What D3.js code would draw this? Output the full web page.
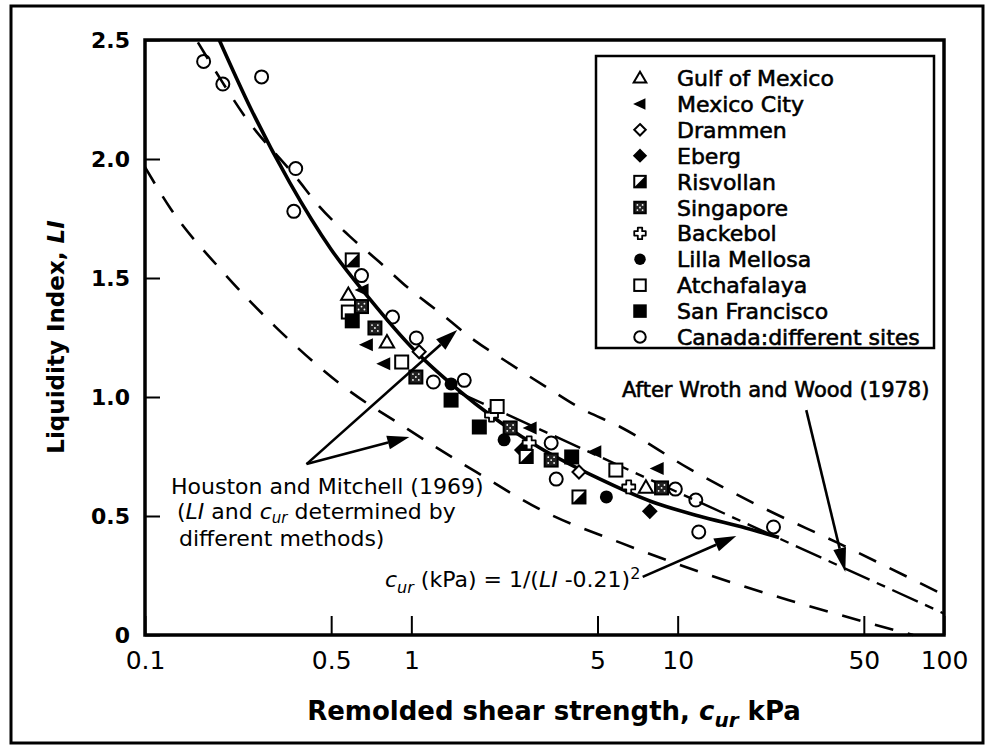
<!DOCTYPE html>
<html>
<head>
<meta charset="utf-8">
<script src="https://cdn.jsdelivr.net/npm/d3@7"></script>
<style>
  body { margin: 0; background: #fff; }
  svg { display: block; }
  text { font-family: "DejaVu Sans", sans-serif; fill: #000; }
  .heavy { stroke: #000; stroke-width: 0.6px; }
</style>
</head>
<body>
<svg id="chart" width="993" height="747"></svg>
<script>
const width = 993;
const height = 747;

// points: [c_ur kPa, LI]
const gulfOfMexico = [[0.58, 1.43], [0.81, 1.23], [7.6, 0.62]];
const mexicoCity = [[0.655, 1.45], [0.68, 1.22], [0.79, 1.14], [2.8, 0.87], [4.9, 0.77], [8.4, 0.70]];
const drammen = [[1.07, 1.19], [4.26, 0.685]];
const eberg = [[2.6, 0.777], [7.86, 0.52]];
const risvollan = [[0.60, 1.576], [2.70, 0.75], [4.26, 0.58]];
const singapore = [[0.65, 1.38], [0.73, 1.29], [1.04, 1.084], [2.35, 0.87], [3.35, 0.735], [8.7, 0.618]];
const backebol = [[2.0, 0.924], [2.77, 0.807], [6.55, 0.622]];
const lillaMellosa = [[1.41, 1.055], [2.23, 0.82], [5.4, 0.58]];
const atchafalaya = [[0.58, 1.357], [0.92, 1.147], [2.1, 0.96], [5.86, 0.693]];
const sanFrancisco = [[0.60, 1.32], [1.41, 0.987], [1.80, 0.874], [4.0, 0.748]];
const canada = [[0.166, 2.41], [0.196, 2.315], [0.274, 2.345], [0.368, 1.96], [0.362, 1.78],
  [0.65, 1.51], [0.85, 1.336], [1.044, 1.248], [1.21, 1.063], [1.58, 1.07], [3.35, 0.807],
  [3.5, 0.655], [9.8, 0.613], [11.7, 0.567], [12.0, 0.433], [22.9, 0.454]];

// curves
const fitCurve = [[0.19, 2.5], [0.25, 2.21], [0.35, 1.90], [0.5, 1.62], [0.7, 1.41], [1, 1.21],
  [1.5, 1.03], [2, 0.92], [3, 0.79], [5, 0.66], [8, 0.56], [12, 0.50], [18, 0.45], [24, 0.41]];
const hmUpper = [[0.158, 2.49], [0.196, 2.32], [0.235, 2.185], [0.371, 1.92], [0.452, 1.80],
  [0.586, 1.676], [0.759, 1.567], [0.983, 1.454], [1.27, 1.357], [1.72, 1.239], [2.29, 1.147],
  [3.23, 1.04], [4.30, 0.954], [6.07, 0.875], [11.0, 0.70], [20.6, 0.538], [39.4, 0.39], [100, 0.168]];
const hmLower = [[0.1, 1.966], [0.125, 1.79], [0.193, 1.534], [0.307, 1.298], [0.547, 1.05],
  [0.966, 0.866], [1.75, 0.685], [3.23, 0.513], [6.12, 0.387], [12.8, 0.256], [26.0, 0.147],
  [52.4, 0.05], [76.6, 0]];
const wrothWood = [[1.5, 1.02], [100, 0.09]];

const xTicks = [0.1, 0.5, 1, 5, 10, 50, 100];
const yTicks = [0, 0.5, 1, 1.5, 2, 2.5];

const series = [
  { name: "Gulf of Mexico", kind: "triUp", data: gulfOfMexico },
  { name: "Mexico City", kind: "triLeft", data: mexicoCity },
  { name: "Drammen", kind: "diamondOpen", data: drammen },
  { name: "Eberg", kind: "diamondFill", data: eberg },
  { name: "Risvollan", kind: "halfSquare", data: risvollan },
  { name: "Singapore", kind: "dotSquare", data: singapore },
  { name: "Backebol", kind: "cross", data: backebol },
  { name: "Lilla Mellosa", kind: "dot", data: lillaMellosa },
  { name: "Atchafalaya", kind: "squareOpen", data: atchafalaya },
  { name: "San Francisco", kind: "squareFill", data: sanFrancisco },
  { name: "Canada:different sites", kind: "circleOpen", data: canada }
];

const svg = d3.select("#chart");

svg.append("rect")
  .attr("x", 11).attr("y", 6)
  .attr("width", 972).attr("height", 737)
  .attr("fill", "#fff").attr("stroke", "#000").attr("stroke-width", 3);

const x = d3.scaleLog().domain([0.1, 100]).range([145, 944]);
const y = d3.scaleLinear().domain([0, 2.5]).range([635, 40]);

// axes
const xAxis = svg.append("g")
  .attr("transform", `translate(0,${y(0)})`)
  .call(d3.axisBottom(x).tickValues(xTicks).tickSize(-19).tickPadding(16)
    .tickFormat(d => String(d)));
xAxis.select(".domain").remove();
xAxis.selectAll("line").attr("stroke", "#000").attr("stroke-width", 2);
xAxis.selectAll("text")
  .attr("font-family", "Liberation Sans, Arial, sans-serif")
  .attr("font-size", 25);

const yAxis = svg.append("g")
  .attr("transform", `translate(${x(0.1)},0)`)
  .call(d3.axisLeft(y).tickValues(yTicks).tickSize(-15).tickPadding(15)
    .tickFormat(d => d === 0 ? "0" : d3.format(".1f")(d)));
yAxis.select(".domain").remove();
yAxis.selectAll("line").attr("stroke", "#000").attr("stroke-width", 2);
yAxis.selectAll("text")
  .attr("font-weight", "bold")
  .attr("font-size", 22);

svg.append("rect")
  .attr("x", x(0.1)).attr("y", y(2.5))
  .attr("width", x(100) - x(0.1)).attr("height", y(0) - y(2.5))
  .attr("fill", "none").attr("stroke", "#000").attr("stroke-width", 3.5);

// lines
const line = d3.line()
  .x(d => x(d[0]))
  .y(d => y(d[1]))
  .curve(d3.curveMonotoneX);

const plot = svg.append("g");

plot.append("path").datum(hmUpper)
  .attr("d", line).attr("fill", "none").attr("stroke", "#000")
  .attr("stroke-width", 2.6).attr("stroke-dasharray", "19,15");
plot.append("path").datum(hmLower)
  .attr("d", line).attr("fill", "none").attr("stroke", "#000")
  .attr("stroke-width", 2.6).attr("stroke-dasharray", "19,15");
plot.append("path").datum(wrothWood)
  .attr("d", line).attr("fill", "none").attr("stroke", "#000")
  .attr("stroke-width", 2.4).attr("stroke-dasharray", "28,8,9,8");
plot.append("path").datum(fitCurve)
  .attr("d", line).attr("fill", "none").attr("stroke", "#000")
  .attr("stroke-width", 3.6);

// markers
function drawMarker(g, kind, s) {
  const h = s / 2;
  const sw = 2;
  if (kind === "triUp") {
    g.append("path").attr("d", `M0,${-h * 1.1}L${h * 1.1},${h * 0.8}L${-h * 1.1},${h * 0.8}Z`)
      .attr("fill", "#fff").attr("stroke", "#000").attr("stroke-width", sw);
  } else if (kind === "triLeft") {
    g.append("path").attr("d", `M${-h * 1.2},0L${h * 0.95},${-h * 1.0}L${h * 0.95},${h * 1.0}Z`)
      .attr("fill", "#000");
  } else if (kind === "diamondOpen" || kind === "diamondFill") {
    g.append("path").attr("d", `M0,${-h}L${h},0L0,${h}L${-h},0Z`)
      .attr("fill", kind === "diamondFill" ? "#000" : "#fff")
      .attr("stroke", "#000").attr("stroke-width", sw);
  } else if (kind === "halfSquare") {
    g.append("rect").attr("x", -h).attr("y", -h).attr("width", s).attr("height", s)
      .attr("fill", "#fff").attr("stroke", "#000").attr("stroke-width", sw);
    g.append("path").attr("d", `M${h},${-h}L${h},${h}L${-h},${h}Z`).attr("fill", "#000");
  } else if (kind === "dotSquare") {
    g.append("rect").attr("x", -h).attr("y", -h).attr("width", s).attr("height", s)
      .attr("fill", "#222").attr("stroke", "#000").attr("stroke-width", sw);
    [[-1, -1], [1, -1], [-1, 1], [1, 1], [0, 0]].forEach(p => {
      g.append("circle").attr("cx", p[0] * h * 0.45).attr("cy", p[1] * h * 0.45)
        .attr("r", 0.9).attr("fill", "#fff");
    });
  } else if (kind === "cross") {
    const a = h * 0.38;
    g.append("path")
      .attr("d", `M${-a},${-h}H${a}V${-a}H${h}V${a}H${a}V${h}H${-a}V${a}H${-h}V${-a}H${-a}Z`)
      .attr("fill", "#fff").attr("stroke", "#000").attr("stroke-width", 1.8)
      .attr("stroke-linejoin", "round");
  } else if (kind === "dot") {
    g.append("circle").attr("r", h).attr("fill", "#000");
  } else if (kind === "squareOpen" || kind === "squareFill") {
    g.append("rect").attr("x", -h).attr("y", -h).attr("width", s).attr("height", s)
      .attr("fill", kind === "squareFill" ? "#000" : "#fff")
      .attr("stroke", "#000").attr("stroke-width", sw);
  } else if (kind === "circleOpen") {
    g.append("circle").attr("r", h).attr("fill", "none")
      .attr("stroke", "#000").attr("stroke-width", sw);
  }
}

series.forEach(sr => {
  plot.append("g")
    .selectAll("g")
    .data(sr.data)
    .enter()
    .append("g")
    .attr("transform", d => `translate(${x(d[0])},${y(d[1])})`)
    .each(function () { drawMarker(d3.select(this), sr.kind, 13); });
});

// legend
const legend = svg.append("g");
legend.append("rect")
  .attr("x", 596).attr("y", 56).attr("width", 338).attr("height", 292)
  .attr("fill", "#fff").attr("stroke", "#000").attr("stroke-width", 2.5);

const rows = legend.selectAll(".row")
  .data(series)
  .enter()
  .append("g")
  .attr("class", "row")
  .attr("transform", (d, i) => `translate(640,${78 + i * 25.9})`);

rows.each(function (d) { drawMarker(d3.select(this), d.kind, 11.5); });
rows.append("text")
  .attr("class", "heavy")
  .attr("x", 37).attr("y", 8)
  .attr("font-size", 22)
  .text(d => d.name);

// annotations
function arrow(from, to, len, half) {
  const x1 = x(from[0]), y1 = y(from[1]), x2 = x(to[0]), y2 = y(to[1]);
  const ang = Math.atan2(y2 - y1, x2 - x1);
  const bx = x2 - len * Math.cos(ang), by = y2 - len * Math.sin(ang);
  svg.append("line")
    .attr("x1", x1).attr("y1", y1).attr("x2", bx).attr("y2", by)
    .attr("stroke", "#000").attr("stroke-width", 2.6);
  const px = -Math.sin(ang) * half, py = Math.cos(ang) * half;
  svg.append("path")
    .attr("d", `M${x2},${y2}L${bx + px},${by + py}L${bx - px},${by - py}Z`)
    .attr("fill", "#000");
}

arrow([0.404, 0.718], [1.487, 1.282], 22, 7);
arrow([0.404, 0.718], [0.983, 0.832], 22, 7);
arrow([30.4, 0.945], [42.6, 0.265], 24, 6.5);
arrow([7.39, 0.244], [16.6, 0.416], 22, 7);

svg.append("text").attr("class", "heavy")
  .attr("x", 622).attr("y", 397).attr("font-size", 21)
  .text("After Wroth and Wood (1978)");

svg.append("text").attr("font-size", 22)
  .attr("x", 171).attr("y", 494).text("Houston and Mitchell (1969)");
const hm = svg.append("text").attr("font-size", 22).attr("x", 177).attr("y", 519);
hm.append("tspan").text("(");
hm.append("tspan").attr("font-style", "italic").text("LI");
hm.append("tspan").text(" and ");
hm.append("tspan").attr("font-style", "italic").text("c");
hm.append("tspan").attr("font-style", "italic").attr("font-size", 15).attr("dy", 4).text("ur");
hm.append("tspan").attr("dy", -4).text(" determined by");
svg.append("text").attr("font-size", 22)
  .attr("x", 179).attr("y", 546).text("different methods)");

const fm = svg.append("text").attr("x", 385).attr("y", 587).attr("font-size", 22);
fm.append("tspan").attr("font-style", "italic").text("c");
fm.append("tspan").attr("font-style", "italic").attr("font-size", 16).attr("dy", 6).text("ur");
fm.append("tspan").attr("dy", -6).text(" (kPa) = 1/(");
fm.append("tspan").attr("font-style", "italic").text("LI");
fm.append("tspan").text(" -0.21)");
fm.append("tspan").attr("font-size", 16).attr("dy", -8).text("2");

// axis titles
const xt = svg.append("text")
  .attr("x", 554).attr("y", 720)
  .attr("text-anchor", "middle")
  .attr("font-family", "Liberation Sans, Arial, sans-serif")
  .attr("font-weight", "bold").attr("font-size", 26);
xt.append("tspan").text("Remolded shear strength, ");
xt.append("tspan").attr("font-style", "italic").text("c");
xt.append("tspan").attr("font-style", "italic").attr("font-size", 20).attr("dy", 7).text("ur");
xt.append("tspan").attr("dy", -7).text(" kPa");

const yt = svg.append("text")
  .attr("transform", "translate(64,337) rotate(-90)")
  .attr("text-anchor", "middle")
  .attr("font-family", "Liberation Sans, Arial, sans-serif")
  .attr("font-weight", "bold").attr("font-size", 23);
yt.append("tspan").text("Liquidity Index, ");
yt.append("tspan").attr("font-style", "italic").text("LI");
</script>
</body>
</html>
